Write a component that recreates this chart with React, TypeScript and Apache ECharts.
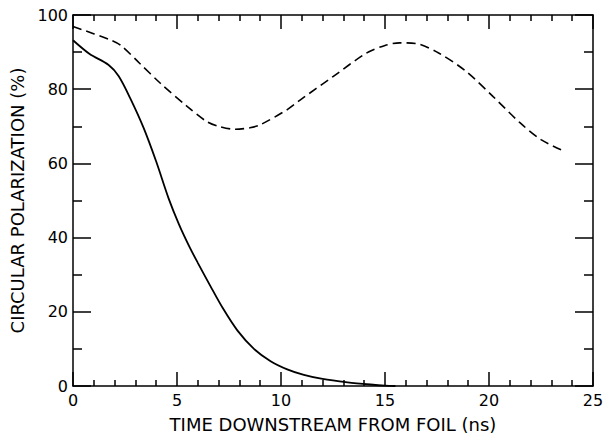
import React, { useEffect, useRef } from "react";
import * as echarts from "echarts";

const solidTimes = [0, 0.8, 1.7, 2.2, 2.8, 3.4, 4.0, 4.6, 5.1, 5.6, 6.0, 6.6, 7.2, 7.9, 8.7, 9.5, 10.3, 11.1, 12.0, 13.2, 14.3, 15.0, 15.5];
const solidValues = [93.2, 89.5, 86.6, 83.5, 77, 69.5, 60.5, 50.5, 43.5, 37.5, 33.2, 27, 21, 15, 10, 6.7, 4.5, 3.0, 1.9, 1.0, 0.4, 0.1, 0];
const dashedTimes = [0, 1.8, 2.3, 3.2, 4.2, 5.5, 6.4, 7.0, 7.8, 8.5, 9.0, 10.3, 10.9, 12.5, 14.1, 15.0, 15.7, 16.5, 17.6, 18.9, 20.2, 21.5, 22.5, 23.5];
const dashedValues = [96.9, 93.3, 91.8, 87.0, 81.6, 75.3, 71.4, 70.0, 69.2, 69.6, 70.4, 74.5, 77.0, 83.4, 89.7, 91.8, 92.5, 92.3, 89.7, 84.8, 78.0, 70.9, 66.4, 63.6];
const xTitle = "TIME DOWNSTREAM FROM FOIL (ns)";
const yTitle = "CIRCULAR POLARIZATION (%)";

const FONT = "DejaVu Sans";

export default function App() {
  const ref = useRef<HTMLDivElement>(null);
  useEffect(() => {
    if (!ref.current) return;
    const chart = echarts.init(ref.current, undefined, { renderer: "svg" });
    const mk = (kind: "x" | "y", pos: string, labels: boolean, extra: any = {}) => ({
      type: "value",
      min: 0,
      max: kind === "x" ? 25 : 100,
      interval: kind === "x" ? 5 : 20,
      position: pos,
      axisLine: { show: true, onZero: false, lineStyle: { color: "#000", width: 1.5 } },
      axisTick: { show: true, inside: true, length: kind === "x" ? 14 : 18, lineStyle: { color: "#000", width: 1.5 } },
      minorTick: { show: true, splitNumber: kind === "x" ? 5 : 2, length: kind === "x" ? 6 : 9, lineStyle: { color: "#000", width: 1.5 } },
      splitLine: { show: false },
      axisLabel: labels ? { color: "#000", fontFamily: FONT, fontSize: 16, margin: kind === "x" ? 6 : 5 } : { show: false },
      ...extra,
    });
    chart.setOption({
      animation: false,
      backgroundColor: "#fff",
      grid: { left: 73, right: 20, top: 15, bottom: 51, containLabel: false },
      xAxis: [
        mk("x", "bottom", true, {
          name: xTitle, nameLocation: "middle", nameGap: 29,
          nameTextStyle: { color: "#000", fontFamily: FONT, fontSize: 18 },
        }),
        mk("x", "top", false),
      ],
      yAxis: [
        mk("y", "left", true, {
          name: yTitle, nameLocation: "middle", nameGap: 40,
          nameTextStyle: { color: "#000", fontFamily: FONT, fontSize: 18 },
        }),
        mk("y", "right", false),
      ],
      series: [
        {
          type: "line", xAxisIndex: 0, yAxisIndex: 0, showSymbol: false, smooth: 0.3,
          data: solidTimes.map((t, i) => [t, solidValues[i]]),
          lineStyle: { color: "#000", width: 1.8, type: "solid" },
        },
        {
          type: "line", xAxisIndex: 0, yAxisIndex: 0, showSymbol: false, smooth: 0.3,
          data: dashedTimes.map((t, i) => [t, dashedValues[i]]),
          lineStyle: { color: "#000", width: 1.6, type: [9, 5] },
        },
      ],
    });
    return () => chart.dispose();
  }, []);
  return <div ref={ref} style={{ width: 613, height: 438, position: "absolute", left: 0, top: 0 }} />;
}
